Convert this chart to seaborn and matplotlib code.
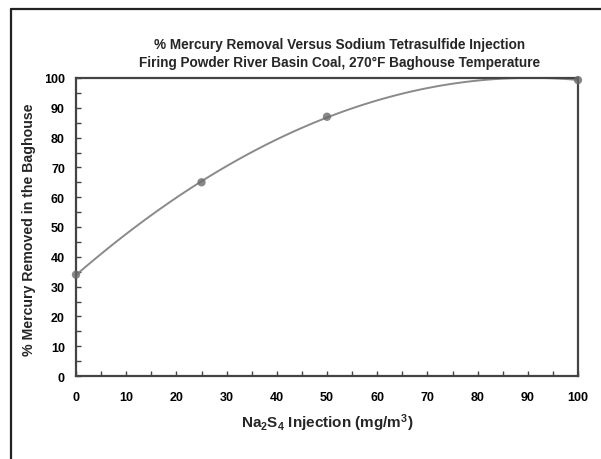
import matplotlib
matplotlib.use("Agg")
import matplotlib.pyplot as plt
import seaborn as sns
import numpy as np
from matplotlib.ticker import MultipleLocator
from matplotlib.lines import Line2D
from matplotlib.patches import Rectangle
from matplotlib.transforms import Bbox, TransformedBbox

# Data
injection = [0, 25, 50, 100]           # Na2S4 injection (mg/m3)
removal = [34, 65, 87, 99.3]           # % mercury removed in baghouse
x_ticks = list(range(0, 101, 10))
y_ticks = list(range(0, 101, 10))

sns.set_theme(style="white")
plt.rcParams['font.family'] = ['Liberation Sans', 'DejaVu Sans']
plt.rcParams['font.weight'] = 'bold'
plt.rcParams['mathtext.fontset'] = 'custom'
plt.rcParams['mathtext.rm'] = 'Liberation Sans:bold'
plt.rcParams['mathtext.bf'] = 'Liberation Sans:bold'
plt.rcParams['mathtext.it'] = 'Liberation Sans:bold'
plt.rcParams['mathtext.default'] = 'bf'

W, H = 601, 460
fig = plt.figure(figsize=(W / 100, H / 100), dpi=100)
fig.patch.set_facecolor("white")
ax = fig.add_axes([76 / W, 1 - 377 / H, (578 - 76) / W, (377 - 79) / H])

sns.regplot(x=injection, y=removal, order=2, ci=None, ax=ax, truncate=True,
            scatter_kws=dict(color="#6a6a6a", s=36, edgecolors="none", zorder=3, clip_on=False),
            line_kws=dict(color="#8a8a8a", lw=1.4, zorder=2))

ax.set_xlim(0, 100)
ax.set_ylim(0, 100)
ax.set_xticks(x_ticks)
ax.set_yticks(y_ticks)
ax.xaxis.set_minor_locator(MultipleLocator(5))
ax.yaxis.set_minor_locator(MultipleLocator(5))
ax.tick_params(axis="both", which="both", direction="in", length=3.5, width=1,
               color="#444444", labelsize=9, labelcolor="black",
               bottom=True, left=True, top=False, right=False)
ax.tick_params(axis="x", which="major", pad=11)
ax.tick_params(axis="y", which="major", pad=8)
for lab in ax.get_xticklabels() + ax.get_yticklabels():
    lab.set_fontweight("bold")

for side, sp in ax.spines.items():
    sp.set_color("#444444")
    sp.set_linewidth(1.6)
    sp.set_visible(True)

ax.set_xlabel("Na$_2$S$_4$ Injection (mg/m$^3$)", fontsize=11, fontweight="bold", labelpad=6)
ax.set_ylabel("")

fig.text(340 / W, 1 - 45 / H, "% Mercury Removal Versus Sodium Tetrasulfide Injection",
         ha="center", va="center", fontsize=9.8, fontweight="bold")
fig.text(340 / W, 1 - 63 / H, "Firing Powder River Basin Coal, 270\u00b0F Baghouse Temperature",
         ha="center", va="center", fontsize=9.8, fontweight="bold")

ylab = fig.text(29 / W, 1 - 356 / H, "% Mercury Removed in the Baghouse", rotation=90,
                ha="center", va="bottom", fontsize=10.2, fontweight="bold", zorder=3)
ylab.set_clip_box(TransformedBbox(Bbox([[0, 0], [1, 1 - 105 / H]]), fig.transFigure))
ylab.set_clip_on(True)
# mask the part of the axis title cut off at the top, as in the original
fig.add_artist(Rectangle((14 / W, 1 - 105 / H), (46 - 14) / W, 40 / H,
                         transform=fig.transFigure, facecolor="white",
                         edgecolor="none", zorder=4))

# figure border (top and left)
fig.add_artist(Line2D([11 / W, 1], [1 - 10 / H, 1 - 10 / H], transform=fig.transFigure,
                      color="#222222", lw=1.6, zorder=5))
fig.add_artist(Line2D([11 / W, 11 / W], [0, 1 - 10 / H], transform=fig.transFigure,
                      color="#222222", lw=1.6, zorder=5))

fig.savefig("out.png", dpi=100)
